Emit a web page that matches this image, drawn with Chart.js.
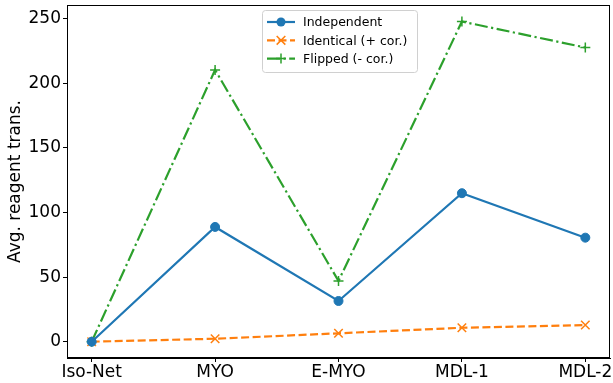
<!DOCTYPE html>
<html>
<head>
<meta charset="utf-8">
<script src="https://cdn.jsdelivr.net/npm/chart.js@4"></script>
<style>
  html, body { margin: 0; padding: 0; background: #fff; }
  #wrap { width: 613px; height: 383px; }
</style>
</head>
<body>
<div id="wrap"><canvas id="chart" width="613" height="383"></canvas></div>
<script>
// data
const methods = ["Iso-Net", "MYO", "E-MYO", "MDL-1", "MDL-2"];
const independent = [0, 88.8, 31.5, 114.9, 80.5];
const identical = [0, 2.3, 6.5, 10.8, 12.9];
const flipped = [0, 210.3, 47, 247.7, 227.6];
const yTicks = [0, 50, 100, 150, 200, 250];

const FONT = "'DejaVu Sans', sans-serif";

function points(values) {
  return values.map((v, i) => ({ x: i, y: v }));
}

// box around the plot and a matplotlib style legend
const framePlugin = {
  id: "frame",
  afterDraw(chart) {
    const ctx = chart.ctx;
    const a = chart.chartArea;
    ctx.save();
    ctx.strokeStyle = "#000";
    ctx.lineWidth = 1;
    ctx.strokeRect(a.left + 0.5, a.top + 0.5, a.right - a.left - 1, a.bottom - a.top - 1);

    // legend
    const bx = 262, by = 10, bw = 155, bh = 62;
    ctx.fillStyle = "rgba(255,255,255,0.8)";
    ctx.strokeStyle = "#d0d0d0";
    ctx.beginPath();
    ctx.roundRect(bx + 0.5, by + 0.5, bw, bh, 3);
    ctx.fill();
    ctx.stroke();
    chart.data.datasets.forEach((ds, i) => {
      const y = 22 + i * 18.3;
      ctx.strokeStyle = ds.borderColor;
      ctx.lineWidth = ds.borderWidth;
      ctx.setLineDash(ds.borderDash || []);
      ctx.beginPath();
      ctx.moveTo(267, y);
      ctx.lineTo(295, y);
      ctx.stroke();
      ctx.setLineDash([]);
      const mx = 281;
      ctx.fillStyle = ds.pointBackgroundColor;
      ctx.strokeStyle = ds.pointBorderColor;
      ctx.lineWidth = ds.pointBorderWidth;
      ctx.beginPath();
      if (ds.pointStyle === "circle") {
        ctx.arc(mx, y, ds.pointRadius, 0, Math.PI * 2);
        ctx.fill();
      } else if (ds.pointStyle === "crossRot") {
        const r = ds.pointRadius * 0.72;
        ctx.moveTo(mx - r, y - r); ctx.lineTo(mx + r, y + r);
        ctx.moveTo(mx - r, y + r); ctx.lineTo(mx + r, y - r);
        ctx.stroke();
      } else {
        const r = ds.pointRadius;
        ctx.moveTo(mx - r, y); ctx.lineTo(mx + r, y);
        ctx.moveTo(mx, y - r); ctx.lineTo(mx, y + r);
        ctx.stroke();
      }
      ctx.fillStyle = "#000";
      ctx.font = "12.5px " + FONT;
      ctx.textBaseline = "middle";
      ctx.fillText(ds.label, 303, y + 1);
    });
    ctx.restore();
  }
};

const ctx = document.getElementById("chart").getContext("2d");
new Chart(ctx, {
  type: "line",
  data: {
    datasets: [
      {
        label: "Independent",
        data: points(independent),
        borderColor: "#1f77b4",
        backgroundColor: "#1f77b4",
        pointBackgroundColor: "#1f77b4",
        pointBorderColor: "#1f77b4",
        pointBorderWidth: 1,
        pointStyle: "circle",
        pointRadius: 4.5,
        borderWidth: 2.2,
        tension: 0
      },
      {
        label: "Identical (+ cor.)",
        data: points(identical),
        borderColor: "#ff7f0e",
        backgroundColor: "#ff7f0e",
        pointBackgroundColor: "#ff7f0e",
        pointBorderColor: "#ff7f0e",
        pointBorderWidth: 1.5,
        pointStyle: "crossRot",
        pointRadius: 6,
        borderWidth: 2.2,
        borderDash: [8, 3.5],
        tension: 0
      },
      {
        label: "Flipped (- cor.)",
        data: points(flipped),
        borderColor: "#2ca02c",
        backgroundColor: "#2ca02c",
        pointBackgroundColor: "#2ca02c",
        pointBorderColor: "#2ca02c",
        pointBorderWidth: 1.5,
        pointStyle: "cross",
        pointRadius: 5,
        borderWidth: 2.2,
        borderDash: [13, 3.5, 2.2, 3.5],
        tension: 0
      }
    ]
  },
  options: {
    responsive: false,
    animation: false,
    layout: { autoPadding: false, padding: { top: 5, right: 3, left: 0, bottom: 0 } },
    plugins: {
      legend: { display: false },
      tooltip: { enabled: false }
    },
    scales: {
      x: {
        type: "linear",
        min: -0.2,
        max: 4.2,
        afterBuildTicks(axis) {
          axis.ticks = methods.map((_, i) => ({ value: i }));
        },
        afterFit(axis) {
          axis.height = 25;
          axis.paddingLeft = 0;
          axis.paddingRight = 0;
        },
        ticks: {
          callback: (v) => methods[v],
          color: "#000",
          font: { family: FONT, size: 17 },
          padding: 0,
          maxRotation: 0,
          autoSkip: false
        },
        grid: { drawOnChartArea: false, tickLength: 4, color: "#000" },
        border: { color: "#000" }
      },
      y: {
        min: -12.6,
        max: 260.5,
        afterBuildTicks(axis) {
          axis.ticks = yTicks.map((v) => ({ value: v }));
        },
        afterFit(axis) {
          axis.width = 67;
          axis.paddingTop = 0;
          axis.paddingBottom = 0;
        },
        ticks: {
          color: "#000",
          font: { family: FONT, size: 17 },
          padding: 2
        },
        grid: { drawOnChartArea: false, tickLength: 4, color: "#000" },
        border: { color: "#000" },
        title: {
          display: true,
          text: "Avg. reagent trans.",
          color: "#000",
          font: { family: FONT, size: 17 },
          padding: { top: 5, bottom: 0 }
        }
      }
    }
  },
  plugins: [framePlugin]
});
</script>
</body>
</html>
